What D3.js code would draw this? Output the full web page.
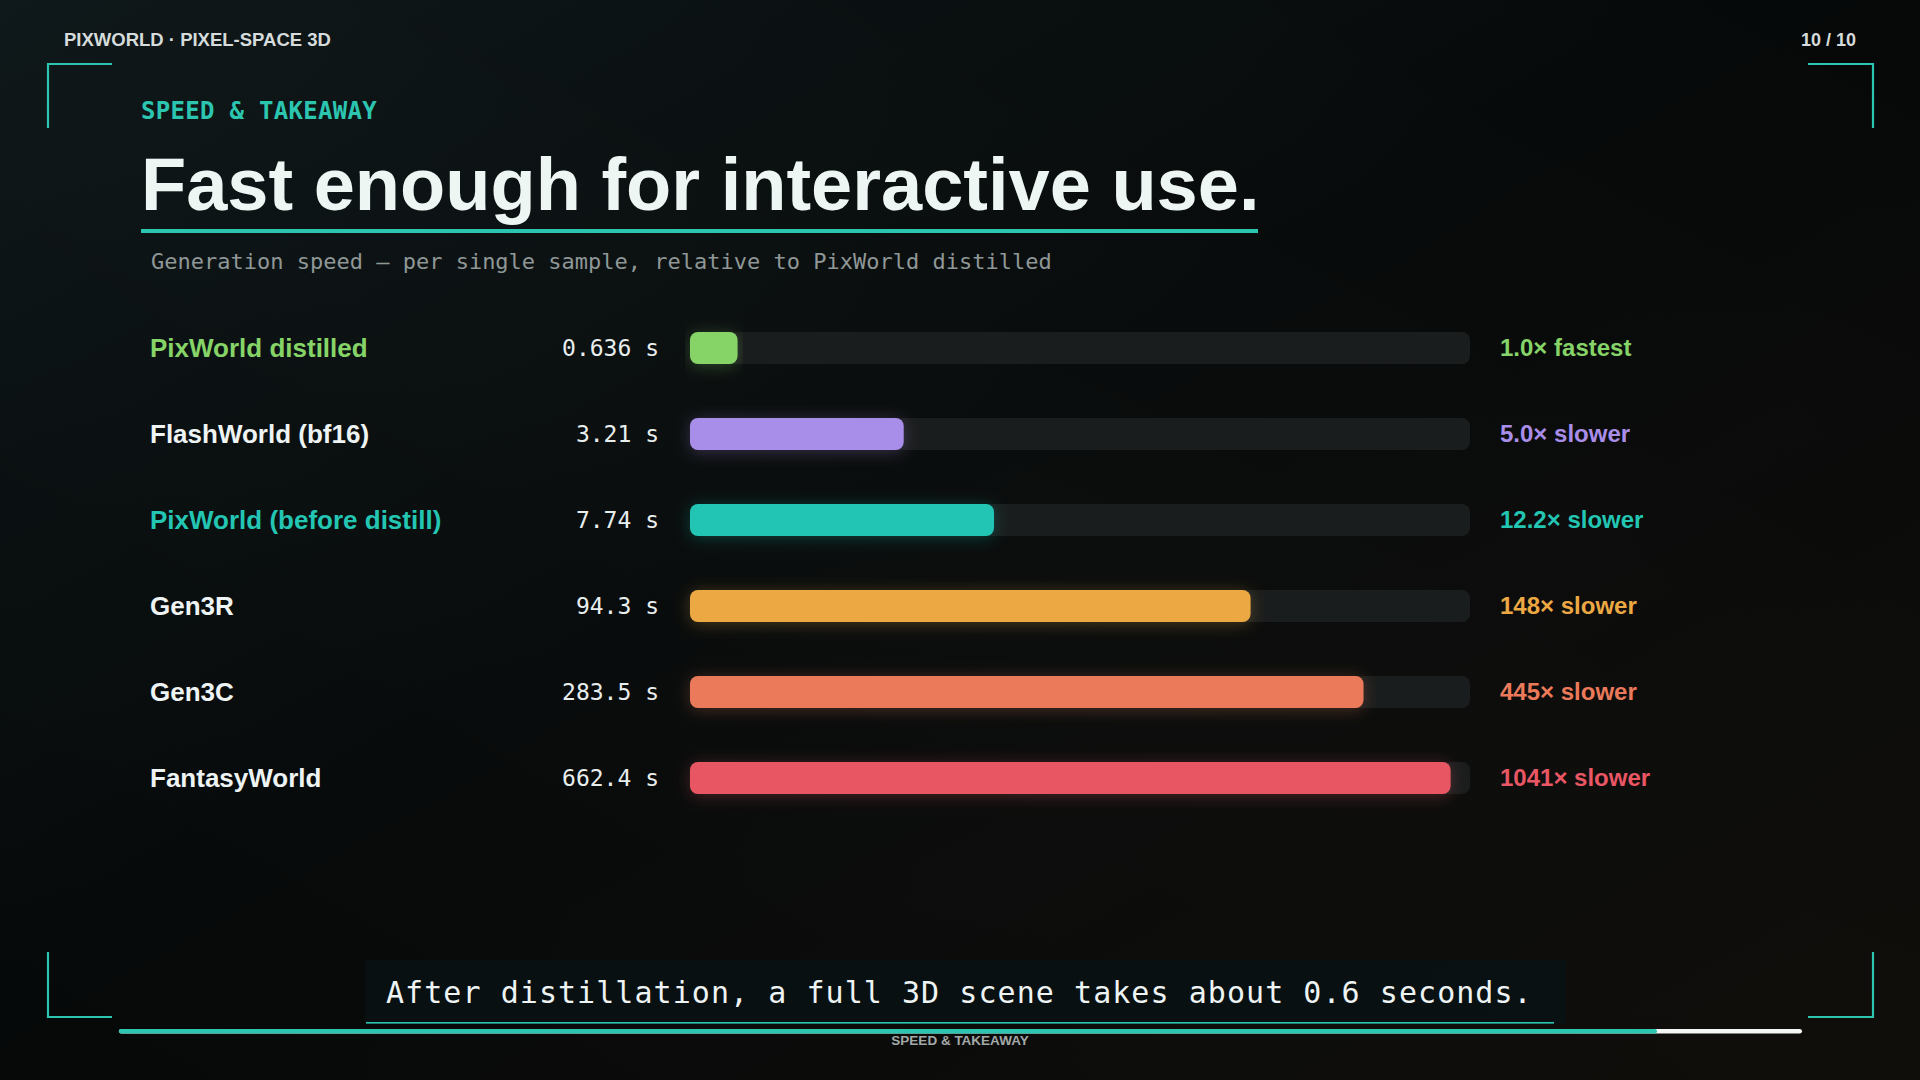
<!DOCTYPE html>
<html>
<head>
<meta charset="utf-8">
<script src="https://cdn.jsdelivr.net/npm/d3@7/dist/d3.min.js"></script>
<style>
  html, body { margin: 0; padding: 0; background: #060909; overflow: hidden; }
  svg { display: block; }
</style>
</head>
<body>
<svg id="chart" width="1920" height="1080"></svg>
<script>
// ---- data ----
const models = ["PixWorld distilled", "FlashWorld (bf16)", "PixWorld (before distill)", "Gen3R", "Gen3C", "FantasyWorld"];
const seconds = [0.636, 3.21, 7.74, 94.3, 283.5, 662.4];
const valueLabels = ["0.636 s", "3.21 s", "7.74 s", "94.3 s", "283.5 s", "662.4 s"];
const ratioLabels = ["1.0× fastest", "5.0× slower", "12.2× slower", "148× slower", "445× slower", "1041× slower"];
const barColors = ["#86d468", "#a98ee9", "#23c5b3", "#eca843", "#eb7a5a", "#e95664"];
const nameColors = ["#86d468", "#eef3f3", "#23c5b3", "#eef3f3", "#eef3f3", "#eef3f3"];
const axisDomain = [0.4, 800];

const W = 1920, H = 1080;
const svg = d3.select("#chart");
const defs = svg.append("defs");

// background
const bg = defs.append("linearGradient").attr("id", "bg").attr("x1", "0").attr("y1", "0").attr("x2", "1").attr("y2", "1");
bg.append("stop").attr("offset", "0%").attr("stop-color", "#0b1416");
bg.append("stop").attr("offset", "45%").attr("stop-color", "#060909");
bg.append("stop").attr("offset", "100%").attr("stop-color", "#0c0a07");
svg.append("rect").attr("width", W).attr("height", H).attr("fill", "url(#bg)");
const streak = defs.append("linearGradient").attr("id", "streak").attr("x1", "0").attr("y1", "1").attr("x2", "1").attr("y2", "0");
streak.append("stop").attr("offset", "0%").attr("stop-color", "#ffffff").attr("stop-opacity", 0);
streak.append("stop").attr("offset", "50%").attr("stop-color", "#ffffff").attr("stop-opacity", 0.018);
streak.append("stop").attr("offset", "100%").attr("stop-color", "#ffffff").attr("stop-opacity", 0);
svg.append("rect").attr("width", W).attr("height", H).attr("fill", "url(#streak)");

// glow filters
barColors.forEach((c, i) => {
  const f = defs.append("filter").attr("id", "glow" + i).attr("x", "-10%").attr("y", "-80%").attr("width", "120%").attr("height", "260%");
  f.append("feDropShadow").attr("dx", 0).attr("dy", 2).attr("stdDeviation", 8).attr("flood-color", c).attr("flood-opacity", 0.28);
});

const teal = "#2cc5b0";

// corner brackets
const br = svg.append("g").attr("fill", "none").attr("stroke", teal).attr("stroke-width", 2.2);
br.append("path").attr("d", "M112,64 H48 V128");
br.append("path").attr("d", "M1808,64 H1873 V128");
br.append("path").attr("d", "M48,952 V1017 H112");
br.append("path").attr("d", "M1873,952 V1017 H1808");

// header
svg.append("text").attr("x", 64).attr("y", 46).attr("fill", "#d6dbdb")
  .attr("font-family", "Liberation Sans, Arial, sans-serif").attr("font-weight", 700).attr("font-size", 18.5)
  .text("PIXWORLD · PIXEL-SPACE 3D");
svg.append("text").attr("x", 1856).attr("y", 46).attr("text-anchor", "end").attr("fill", "#d6dbdb")
  .attr("font-family", "Liberation Sans, Arial, sans-serif").attr("font-weight", 700).attr("font-size", 18)
  .text("10 / 10");

// kicker
svg.append("text").attr("x", 141).attr("y", 119).attr("fill", teal)
  .attr("font-family", "DejaVu Sans Mono, monospace").attr("font-weight", 700).attr("font-size", 24)
  .attr("letter-spacing", 0.3)
  .text("SPEED & TAKEAWAY");

// title
svg.append("text").attr("x", 141).attr("y", 210).attr("fill", "#eef6f4")
  .attr("font-family", "Liberation Sans, Arial, sans-serif").attr("font-weight", 700).attr("font-size", 74)
  .text("Fast enough for interactive use.");
svg.append("rect").attr("x", 141).attr("y", 229).attr("width", 1117).attr("height", 4).attr("fill", teal);

// subtitle
svg.append("text").attr("x", 151).attr("y", 269).attr("fill", "#8f9797")
  .attr("font-family", "DejaVu Sans Mono, monospace").attr("font-size", 22)
  .text("Generation speed — per single sample, relative to PixWorld distilled");

// scales
const x = d3.scaleLog().domain(axisDomain).range([690, 1470]);
const y = d3.scalePoint().domain(models).range([348, 778]);
const barH = 32;

const rows = svg.append("g").selectAll("g").data(models).join("g")
  .attr("transform", d => `translate(0,${y(d)})`);

rows.append("rect").attr("x", x.range()[0]).attr("y", -barH / 2)
  .attr("width", x.range()[1] - x.range()[0]).attr("height", barH)
  .attr("rx", 8).attr("fill", "#1a1d1d");

rows.append("rect").attr("x", x.range()[0]).attr("y", -barH / 2)
  .attr("width", (d, i) => x(seconds[i]) - x.range()[0]).attr("height", barH)
  .attr("rx", 8).attr("fill", (d, i) => barColors[i])
  .attr("filter", (d, i) => `url(#glow${i})`);

rows.append("text").attr("x", 150).attr("dy", "0.35em")
  .attr("fill", (d, i) => nameColors[i])
  .attr("font-family", "Liberation Sans, Arial, sans-serif").attr("font-weight", 700).attr("font-size", 26)
  .text(d => d);

rows.append("text").attr("x", 659).attr("dy", "0.35em").attr("text-anchor", "end")
  .attr("fill", "#e8eeee")
  .attr("font-family", "DejaVu Sans Mono, monospace").attr("font-size", 23)
  .text((d, i) => valueLabels[i]);

rows.append("text").attr("x", 1500).attr("dy", "0.35em")
  .attr("fill", (d, i) => barColors[i])
  .attr("font-family", "Liberation Sans, Arial, sans-serif").attr("font-weight", 700).attr("font-size", 24)
  .text((d, i) => ratioLabels[i]);

// caption
svg.append("rect").attr("x", 365).attr("y", 960).attr("width", 1201).attr("height", 64).attr("fill", "#081214").attr("opacity", 0.85);
svg.append("rect").attr("x", 366).attr("y", 1022).attr("width", 1188).attr("height", 1.6).attr("fill", teal);
svg.append("text").attr("x", 386).attr("y", 1003).attr("fill", "#eef3f3")
  .attr("font-family", "DejaVu Sans Mono, monospace").attr("font-size", 30).attr("letter-spacing", 1.05)
  .text("After distillation, a full 3D scene takes about 0.6 seconds.");

// progress
svg.append("rect").attr("x", 119).attr("y", 1029).attr("width", 1683).attr("height", 4.5).attr("rx", 2.25).attr("fill", "#f4f6f6");
svg.append("rect").attr("x", 119).attr("y", 1029).attr("width", 1538).attr("height", 4.5).attr("rx", 2.25).attr("fill", teal);

svg.append("text").attr("x", 960).attr("y", 1045).attr("text-anchor", "middle").attr("fill", "#a3a8a8")
  .attr("font-family", "Liberation Sans, Arial, sans-serif").attr("font-weight", 700).attr("font-size", 13.5)
  .text("SPEED & TAKEAWAY");
</script>
</body>
</html>
